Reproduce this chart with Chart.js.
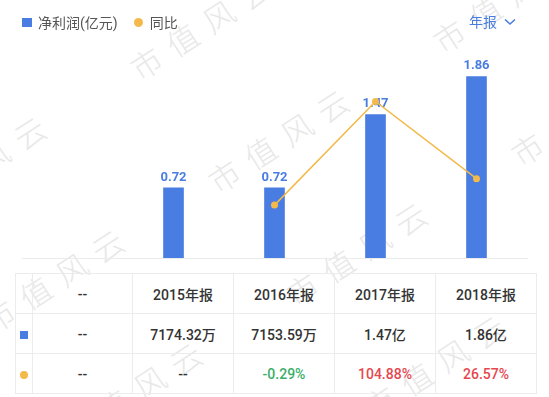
<!DOCTYPE html>
<html>
<head>
<meta charset="utf-8">
<script src="https://cdn.jsdelivr.net/npm/chart.js@4"></script>
<style>
  body { margin: 0; background: #fff; width: 549px; height: 397px; overflow: hidden; position: relative;
         font-family: Roboto, "Noto Sans CJK SC", sans-serif; }
  #wm { position: absolute; left: 0; top: 0; width: 549px; height: 397px; overflow: hidden; pointer-events: none; }
  .mark { position: absolute; font-family: "Noto Sans CJK SC", sans-serif; font-size: 31px; line-height: 31px;
          color: #e8e8e8; letter-spacing: 12px; white-space: nowrap; transform-origin: 15px 15px;
          transform: rotate(-33deg); font-weight: 300; }
  #chart { position: absolute; left: 0; top: 0; }
  .legend { position: absolute; top: 12px; left: 22px; font-size: 14px; color: #555; display: flex; align-items: center; }
  .legend .sq { width: 10px; height: 9px; background: #4a7de2; margin-right: 6px; }
  .legend .dot { width: 9px; height: 9px; border-radius: 50%; background: #f3b94a; margin: 0 7px 0 16px; }
  .period { position: absolute; top: 11px; left: 469px; font-size: 14px; color: #4a7de0; }
  .period svg { vertical-align: middle; margin-left: 7px; margin-top: -2px; }
  table { position: absolute; left: 15px; top: 273px; border-collapse: collapse; font-size: 14px; color: #333; font-weight: 500; }
  td { border: 1px solid #ececec; height: 39px; text-align: center; padding: 0; }
  td.ic { width: 16px; }
  .tsq { display: inline-block; width: 8px; height: 8px; background: #4a7de2; }
  .tdot { display: inline-block; width: 8px; height: 8px; border-radius: 50%; background: #f3b94a; }
  .up { color: #e5484f; }
  .down { color: #3aae6a; }
</style>
</head>
<body>
<div id="wm"></div>
<canvas id="chart" width="549" height="262"></canvas>
<div class="legend"><span class="sq"></span><span>净利润(亿元)</span><span class="dot"></span><span>同比</span></div>
<div class="period">年报<svg width="12" height="8" viewBox="0 0 12 8"><path d="M1 1.5 L6 6 L11 1.5" fill="none" stroke="#4a7de0" stroke-width="1.6"/></svg></div>
<table id="tbl"></table>
<script>
const categories = ['--', '2015年报', '2016年报', '2017年报', '2018年报'];
const netProfit = [null, 0.72, 0.72, 1.47, 1.86];
const yoy = [null, null, -0.29, 104.88, 26.57];
const profitText = ['--', '7174.32万', '7153.59万', '1.47亿', '1.86亿'];
const yoyText = ['--', '--', '-0.29%', '104.88%', '26.57%'];

const BLUE = '#4a7de2';
const ORANGE = '#f3b94a';

// watermark tiles
const wm = document.getElementById('wm');
for (let i = -3; i <= 3; i++) {
  for (let j = -3; j <= 3; j++) {
    const x = 223 + i * 303 + j * 78;
    const y = 175 - i * 27 + j * 113;
    if (x < -200 || x > 600 || y < -120 || y > 500) continue;
    const d = document.createElement('div');
    d.className = 'mark';
    d.textContent = '市值风云';
    d.style.left = (x - 15) + 'px';
    d.style.top = (y - 15) + 'px';
    wm.appendChild(d);
  }
}

// table
const tbl = document.getElementById('tbl');
function row(icon, cells, cls) {
  const tr = document.createElement('tr');
  const ic = document.createElement('td');
  ic.className = 'ic';
  if (icon) ic.innerHTML = '<span class="' + icon + '"></span>';
  tr.appendChild(ic);
  cells.forEach((c, i) => {
    const td = document.createElement('td');
    td.style.width = (i === 0 ? 99 : 100) + 'px';
    td.textContent = c;
    if (cls) td.className = cls(i);
    tr.appendChild(td);
  });
  tbl.appendChild(tr);
}
row(null, categories);
row('tsq', profitText);
row('tdot', yoyText, i => yoy[i] == null ? '' : (yoy[i] < 0 ? 'down' : 'up'));

const barLabels = {
  id: 'barLabels',
  afterDatasetDraw(chart, args) {
    if (args.index !== 1) return;
    const ctx = chart.ctx;
    ctx.save();
    ctx.font = 'bold 13px Roboto';
    ctx.fillStyle = '#4a7de0';
    ctx.textAlign = 'center';
    ctx.textBaseline = 'bottom';
    args.meta.data.forEach((el, i) => {
      if (netProfit[i] == null) return;
      ctx.fillText(netProfit[i].toFixed(2), el.x, el.y - 4);
    });
    ctx.restore();
  }
};

new Chart(document.getElementById('chart'), {
  data: {
    labels: categories,
    datasets: [
      {
        type: 'line',
        label: '同比',
        data: yoy,
        yAxisID: 'y1',
        order: 0,
        borderColor: ORANGE,
        borderWidth: 1.5,
        pointRadius: 3.5,
        pointBackgroundColor: ORANGE,
        pointBorderWidth: 0,
        tension: 0
      },
      {
        type: 'bar',
        label: '净利润(亿元)',
        data: netProfit,
        yAxisID: 'y',
        order: 1,
        backgroundColor: BLUE,
        barThickness: 20
      }
    ]
  },
  options: {
    responsive: false,
    animation: false,
    layout: { padding: { left: 22, right: 22, top: 63, bottom: 3 } },
    plugins: { legend: { display: false }, tooltip: { enabled: false } },
    scales: {
      x: {
        grid: { display: false, drawTicks: false },
        ticks: { display: false },
        border: { color: '#ececec', width: 1 }
      },
      y: { display: false, min: 0, max: 2 },
      y1: { display: false, min: -54, max: 144 }
    }
  },
  plugins: [barLabels]
});
</script>
</body>
</html>
